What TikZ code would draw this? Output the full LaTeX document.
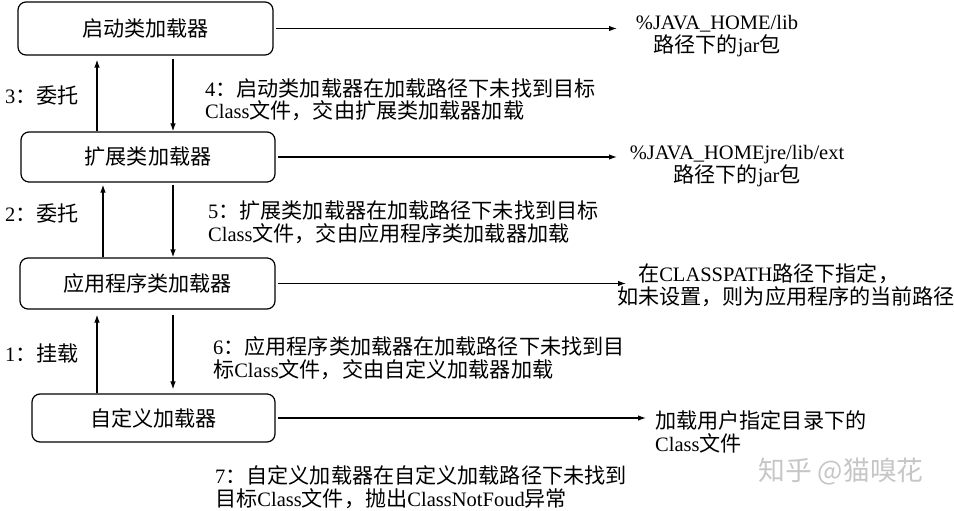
\documentclass[tikz,border=0pt]{standalone}
\usepackage{fontspec}
\setmainfont{Liberation Serif}
\newfontfamily\cjk[Scale=1.03]{Noto Sans CJK SC}
\newcommand\zh[1]{{\cjk #1}}
\usetikzlibrary{arrows.meta}

\begin{document}
\begin{tikzpicture}[x=1pt,y=-1pt,
  loader/.style={draw,rounded corners=8pt,line width=1.2pt,inner sep=0pt},
  note/.style={inner sep=0pt,align=left},
  arr/.style={-{Latex[length=8pt,width=5.5pt]},line width=1.2pt},
  font=\fontsize{20.5}{22.5}\selectfont]
\useasboundingbox (0,0) rectangle (954,511);
\node[loader,minimum width=255pt,minimum height=53pt] (boot) at (145.5,28.5) {\zh{启动类加载器}};
\node[loader,minimum width=254pt,minimum height=50pt] (ext) at (148,157) {\zh{扩展类加载器}};
\node[loader,minimum width=255pt,minimum height=51pt] (app) at (147.5,283.5) {\zh{应用程序类加载器}};
\node[loader,minimum width=243pt,minimum height=48pt] (custom) at (153.5,418) {\zh{自定义加载器}};
\coordinate (up) at (97,0); \coordinate (upb) at (103,0); \coordinate (down) at (173,0);
% delegation upwards, fallback downwards
\draw[arr,shorten >=4pt] (ext.north -| up) -- (boot.south -| up);
\draw[arr,shorten <=3pt] (boot.south -| down) -- (ext.north -| down);
\draw[arr,shorten >=2pt] (app.north -| upb) -- (ext.south -| upb);
\draw[arr,shorten <=2pt] (ext.south -| down) -- (app.north -| down);
\draw[arr,shorten >=5pt] (custom.north -| up) -- (app.south -| up);
\draw[arr,shorten <=5pt,shorten >=4pt] (app.south -| down) -- (custom.north -| down);
\node[note,anchor=west] (l3) at (5,95) {3\zh{：委托}};
\node[note,anchor=west] (l2) at (5,213) {2\zh{：委托}};
\node[note,anchor=west] (l1) at (5,353) {1\zh{：挂载}};
\node[note,anchor=west] (n4) at (205,100) {4\zh{：启动类加载器在加载路径下未找到目标}\\Class\zh{文件，交由扩展类加载器加载}};
\node[note,anchor=west] (n5) at (208,222) {5\zh{：扩展类加载器在加载路径下未找到目标}\\Class\zh{文件，交由应用程序类加载器加载}};
\node[note,anchor=west] (n6) at (213,358) {6\zh{：应用程序类加载器在加载路径下未找到目}\\\zh{标}Class\zh{文件，交由自定义加载器加载}};
\node[note,anchor=west] (n7) at (215,487) {7\zh{：自定义加载器在自定义加载路径下未找到}\\\zh{目标}Class\zh{文件，抛出}ClassNotFoud\zh{异常}};
% load paths
\node[note,align=center] (libpath) at (717,36) {\%JAVA\_HOME/lib\\\zh{路径下的}jar\zh{包}};
\node[note,align=center] (extpath) at (737,166) {\%JAVA\_HOMEjre/lib/ext\\\zh{路径下的}jar\zh{包}};
\node[note,anchor=west] (cppath) at (617,285) {\hspace*{21pt}\zh{在}CLASSPATH\zh{路径下指定，}\\\zh{如未设置，则为应用程序的当前路径}};
\node[note,anchor=west] (userpath) at (655,432) {\zh{加载用户指定目录下的}\\Class\zh{文件}};
\coordinate (e1) at (617,0); \coordinate (e3) at (626,0); \coordinate (e4) at (646,0);
\draw[arr,shorten <=2pt] (boot.east) -- (boot.east -| e1);
\draw[arr,shorten <=2pt] (ext.east) -- (ext.east -| e1);
\draw[arr,shorten <=2pt] (app.east) -- (app.east -| e3);
\draw[arr,shorten <=2pt] (custom.east) -- (custom.east -| e4);
\node[text=gray!45,font=\fontsize{26}{28}\selectfont] (mark) at (841,472) {\zh{知乎 @猫嗅花}};
\end{tikzpicture}
\end{document}
